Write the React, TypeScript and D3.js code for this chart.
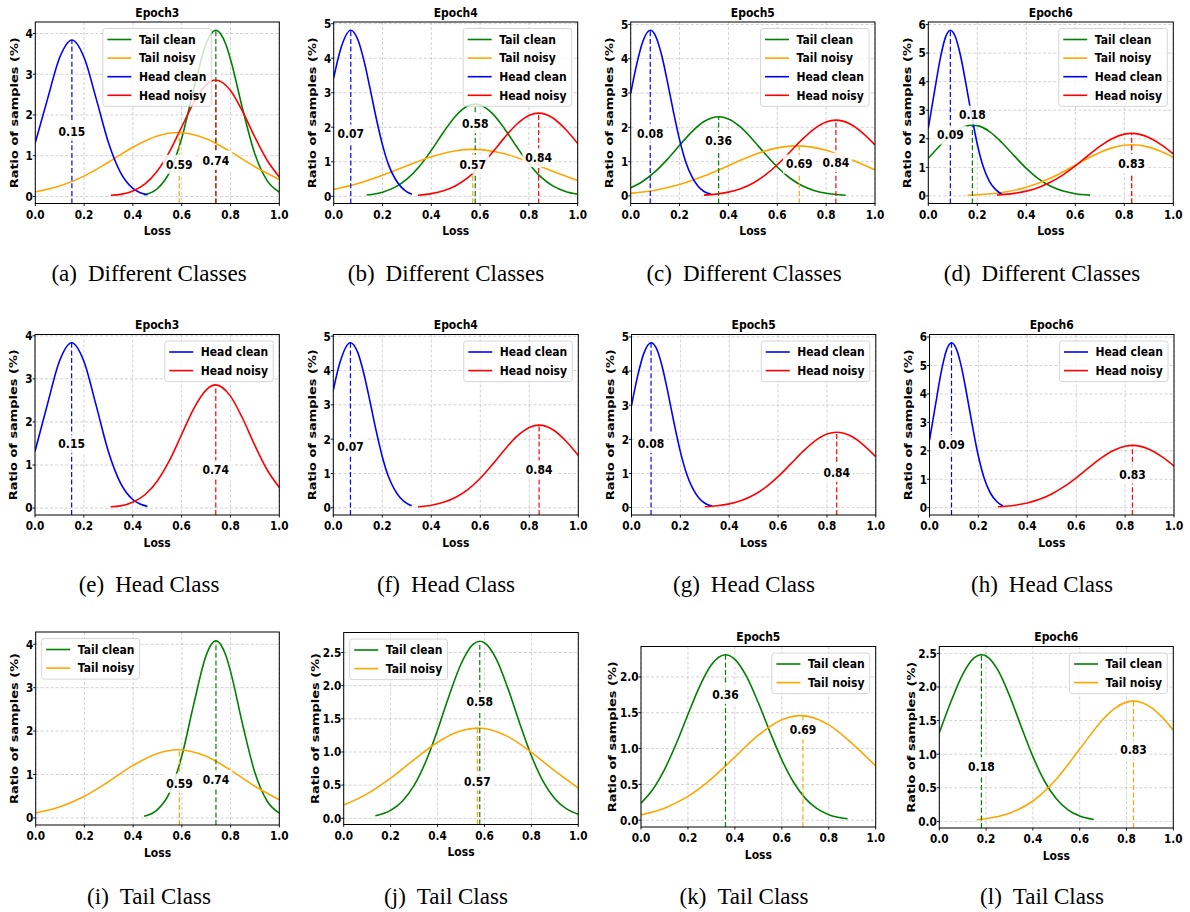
import React from 'react';
import * as d3 from 'd3';

type Pt = [number, number];

// ---------- DATA ----------
const epochTitles = ['Epoch3', 'Epoch4', 'Epoch5', 'Epoch6'];

// Head clean curves per epoch
const headClean3: Pt[] = [[0, 1.32], [0.05, 2.39], [0.1, 3.41], [0.15, 3.84], [0.2, 3.41], [0.25, 2.39], [0.3, 1.32], [0.35, 0.58], [0.4, 0.2], [0.43, 0.093], [0.46, 0.04]];
const headClean4: Pt[] = [[0, 3.43], [0.025, 4.18], [0.07, 4.81], [0.1, 4.52], [0.125, 3.9], [0.15, 3.09], [0.175, 2.24], [0.2, 1.49], [0.225, 0.91], [0.25, 0.53], [0.275, 0.28], [0.3, 0.13], [0.32, 0.06]];
const headClean5: Pt[] = [[0, 2.99], [0.025, 3.85], [0.05, 4.51], [0.08, 4.83], [0.1, 4.69], [0.125, 4.15], [0.15, 3.34], [0.175, 2.45], [0.2, 1.64], [0.225, 1.0], [0.25, 0.57], [0.275, 0.29], [0.3, 0.13], [0.33, 0.045]];
const headClean6: Pt[] = [[0, 2.37], [0.025, 3.64], [0.05, 4.86], [0.07, 5.55], [0.09, 5.8], [0.11, 5.58], [0.13, 4.97], [0.15, 4.1], [0.175, 2.9], [0.2, 1.81], [0.225, 1.0], [0.25, 0.5], [0.275, 0.22], [0.3, 0.06]];

// Head noisy curves per epoch
const headNoisy3: Pt[] = [[0.31, 0.03], [0.35, 0.052], [0.4, 0.136], [0.45, 0.31], [0.5, 0.625], [0.55, 1.1], [0.6, 1.705], [0.65, 2.31], [0.7, 2.74], [0.74, 2.86], [0.8, 2.6], [0.85, 2.08], [0.9, 1.455], [0.95, 0.89], [1.0, 0.48]];
const headNoisy4: Pt[] = [[0.345, 0.03], [0.4, 0.076], [0.45, 0.16], [0.5, 0.307], [0.55, 0.538], [0.6, 0.862], [0.65, 1.266], [0.7, 1.7], [0.75, 2.086], [0.8, 2.34], [0.84, 2.41], [0.9, 2.26], [0.95, 1.94], [1.0, 1.527]];
const headNoisy5: Pt[] = [[0.3, 0.025], [0.35, 0.054], [0.4, 0.111], [0.45, 0.211], [0.5, 0.371], [0.55, 0.604], [0.6, 0.909], [0.65, 1.266], [0.7, 1.633], [0.75, 1.95], [0.8, 2.156], [0.84, 2.21], [0.9, 2.09], [0.95, 1.834], [1.0, 1.489]];
const headNoisy6: Pt[] = [[0.28, 0.033], [0.35, 0.09], [0.4, 0.169], [0.45, 0.296], [0.5, 0.485], [0.55, 0.739], [0.6, 1.052], [0.65, 1.398], [0.7, 1.733], [0.75, 2.004], [0.8, 2.163], [0.83, 2.19], [0.9, 2.046], [0.95, 1.794], [1.0, 1.468]];

// Tail clean curves per epoch
const tailClean3: Pt[] = [[0.445, 0.039], [0.5, 0.19], [0.55, 0.59], [0.6, 1.43], [0.65, 2.65], [0.7, 3.75], [0.72, 3.99], [0.74, 4.08], [0.76, 3.99], [0.78, 3.75], [0.8, 3.37], [0.85, 2.14], [0.9, 1.04], [0.95, 0.39], [1.0, 0.11]];
const tailClean4: Pt[] = [[0.135, 0.038], [0.2, 0.12], [0.25, 0.257], [0.3, 0.495], [0.35, 0.856], [0.4, 1.33], [0.45, 1.857], [0.5, 2.327], [0.55, 2.62], [0.58, 2.67], [0.6, 2.647], [0.65, 2.403], [0.7, 1.959], [0.75, 1.434], [0.8, 0.943], [0.85, 0.557], [0.9, 0.295], [0.95, 0.141], [1.0, 0.06]];
const tailClean5: Pt[] = [[0, 0.239], [0.05, 0.429], [0.1, 0.707], [0.15, 1.067], [0.2, 1.476], [0.25, 1.869], [0.3, 2.169], [0.36, 2.31], [0.4, 2.246], [0.45, 2.005], [0.5, 1.639], [0.55, 1.228], [0.6, 0.843], [0.65, 0.53], [0.7, 0.305], [0.75, 0.161], [0.8, 0.078], [0.88, 0.02]];
const tailClean6: Pt[] = [[0, 1.317], [0.05, 1.783], [0.1, 2.189], [0.15, 2.437], [0.18, 2.48], [0.2, 2.461], [0.25, 2.254], [0.3, 1.872], [0.35, 1.41], [0.4, 0.964], [0.45, 0.597], [0.5, 0.336], [0.55, 0.171], [0.6, 0.079], [0.66, 0.028]];

// Tail noisy curves per epoch
const tailNoisy3: Pt[] = [[0, 0.113], [0.1, 0.257], [0.2, 0.5], [0.3, 0.84], [0.4, 1.21], [0.5, 1.485], [0.585, 1.57], [0.7, 1.418], [0.8, 1.1], [0.9, 0.73], [1.0, 0.417]];
const tailNoisy4: Pt[] = [[0, 0.2], [0.1, 0.369], [0.2, 0.606], [0.3, 0.884], [0.4, 1.147], [0.5, 1.321], [0.57, 1.36], [0.6, 1.353], [0.7, 1.231], [0.8, 0.995], [0.9, 0.715], [1.0, 0.456]];
const tailNoisy5: Pt[] = [[0, 0.075], [0.1, 0.168], [0.2, 0.332], [0.3, 0.578], [0.4, 0.882], [0.5, 1.186], [0.6, 1.401], [0.68, 1.46], [0.8, 1.331], [0.9, 1.07], [1.0, 0.756]];
const tailNoisy6: Pt[] = [[0.16, 0.024], [0.2, 0.039], [0.3, 0.12], [0.4, 0.303], [0.5, 0.628], [0.6, 1.076], [0.7, 1.521], [0.75, 1.683], [0.8, 1.775], [0.83, 1.79], [0.9, 1.708], [0.95, 1.559], [1.0, 1.356]];

const headCleanCurves = [headClean3, headClean4, headClean5, headClean6];
const headNoisyCurves = [headNoisy3, headNoisy4, headNoisy5, headNoisy6];
const tailCleanCurves = [tailClean3, tailClean4, tailClean5, tailClean6];
const tailNoisyCurves = [tailNoisy3, tailNoisy4, tailNoisy5, tailNoisy6];

// Marked loss values (dashed lines + labels)
const headCleanMark = [0.15, 0.07, 0.08, 0.09];
const headNoisyMark = [0.74, 0.84, 0.84, 0.83];
const tailCleanMark = [0.74, 0.58, 0.36, 0.18];
const tailNoisyMark = [0.59, 0.57, 0.69, 0.83];

// Height of the value labels (in y units) per row
const diffLabelY = { hc: [1.6, 1.81, 1.83, 2.13], hn: [0.89, 1.12, 0.98, 1.14], tc: [0.89, 2.1, 1.6, 2.83], tn: [0.79, 0.93, 0.93, 1.14] };
const headLabelY = { hc: [1.49, 1.78, 1.88, 2.23], hn: [0.89, 1.11, 1.03, 1.18] };
const tailLabelY = { tc: [0.89, 1.76, 1.755, 0.815], tn: [0.8, 0.56, 1.26, 1.065] };

const seriesNames = { tc: 'Tail clean', tn: 'Tail noisy', hc: 'Head clean', hn: 'Head noisy' };
const rowCaptions = ['Different Classes', 'Head Class', 'Tail Class'];
const letters = ['a', 'b', 'c', 'd', 'e', 'f', 'g', 'h', 'i', 'j', 'k', 'l'];
const xTicks = [0, 0.2, 0.4, 0.6, 0.8, 1.0];

// ---------- STYLE / LAYOUT ----------
const COLORS: Record<string, string> = { tc: 'green', tn: 'orange', hc: 'blue', hn: 'red' };
const FONT = '"DejaVu Sans", sans-serif';
const SY = 1.2;
const FS = 10.8;

const rowLayout = [
  { tops: [22, 22, 22, 22], bottoms: [203.5, 203.5, 203.5, 203.5], lefts: [35.3, 333.7, 630.7, 928.3], rights: [279.3, 577.7, 875, 1173.3], captionY: 273 },
  { tops: [334.5, 334.5, 334.5, 334.5], bottoms: [515, 515, 515, 515], lefts: [35, 333.3, 631.5, 929.5], rights: [279.3, 578.3, 875.8, 1174], captionY: 584 },
  { tops: [632, 632.5, 646.5, 646.5], bottoms: [825, 824.5, 827, 828], lefts: [35.7, 343.7, 641, 939.3], rights: [279.3, 578.3, 875.7, 1173.3], captionY: 896 },
];
const captionX = [149, 446, 744, 1042];
const legendLocs = [
  [0.277, 'ur', 'ur', 'ur'],
  ['ur', 'ur', 'ur', 'ur'],
  ['ul', 'ul', 'ur', 'ur'],
];

let ctx: CanvasRenderingContext2D | null = null;
function measure(s: string, size: number) {
  if (!ctx) ctx = document.createElement('canvas').getContext('2d');
  if (!ctx) return s.length * size * 0.6;
  ctx.font = `bold ${size}px "DejaVu Sans"`;
  return ctx.measureText(s).width;
}

function T(props: { x: number; y: number; children: React.ReactNode; size?: number; anchor?: string; rotate?: boolean }) {
  const { x, y, children, size = FS, anchor = 'middle', rotate = false } = props;
  const tr = `translate(${x},${y}) scale(1,${SY})${rotate ? ' rotate(-90)' : ''}`;
  return (
    <text transform={tr} fontSize={size} fontWeight="bold" fontFamily={FONT} textAnchor={anchor as any} dominantBaseline="central" fill="#000">
      {children}
    </text>
  );
}

type Series = { key: string; pts: Pt[]; mark: number; labelY: number };

function Panel(props: { left: number; right: number; top: number; bottom: number; series: Series[]; title?: string; legendLoc: any }) {
  const { left, right, top, bottom, series, title, legendLoc } = props;
  const ys = series.flatMap((s) => s.pts.map((d) => d[1]));
  const lo = d3.min(ys) as number;
  const hi = d3.max(ys) as number;
  const m = (hi - lo) * 0.05;
  const y = d3.scaleLinear().domain([lo - m, hi + m]).range([bottom, top]);
  const x = d3.scaleLinear().domain([0, 1]).range([left, right]);
  const yt = y.ticks(5);
  const step = yt[1] - yt[0];
  const yfmt = d3.format(`.${d3.precisionFixed(step)}f`);
  const xfmt = d3.format('.1f');
  const line = d3.line<Pt>().x((d) => x(d[0])).y((d) => y(d[1])).curve(d3.curveMonotoneX);
  const maxTickW = d3.max(yt, (t) => measure(yfmt(t), 10.5)) as number;

  // legend
  const textW = d3.max(series, (s) => measure(seriesNames[s.key as keyof typeof seriesNames], FS)) as number;
  const lw = 5 + 23 + 8 + textW + 5;
  const lh = 22 + (series.length - 1) * 18.6;
  const lx = legendLoc === 'ur' ? right - 6 - lw : legendLoc === 'ul' ? left + 6 : x(legendLoc);
  const ly = top + 6.5;

  const clipId = `clip-${Math.round(left)}-${Math.round(top)}`;
  return (
    <g>
      <defs>
        <clipPath id={clipId}>
          <rect x={left} y={top} width={right - left} height={bottom - top} />
        </clipPath>
      </defs>
      {/* grid */}
      {xTicks.map((t) => (
        <line key={'gx' + t} x1={x(t)} x2={x(t)} y1={top} y2={bottom} stroke="#b0b0b0" strokeWidth={0.7} strokeDasharray="3,2" opacity={0.8} />
      ))}
      {yt.map((t) => (
        <line key={'gy' + t} x1={left} x2={right} y1={y(t)} y2={y(t)} stroke="#b0b0b0" strokeWidth={0.7} strokeDasharray="3,2" opacity={0.8} />
      ))}
      <g clipPath={`url(#${clipId})`}>
        {series.map((s) => (
          <path key={'c' + s.key} d={line(s.pts) as string} fill="none" stroke={COLORS[s.key]} strokeWidth={1.6} />
        ))}
        {series.map((s) => (
          <line key={'v' + s.key} x1={x(s.mark)} x2={x(s.mark)} y1={bottom} y2={y(d3.max(s.pts, (d) => d[1]) as number)} stroke={COLORS[s.key]} strokeWidth={1.2} strokeDasharray="5,2.6" />
        ))}
      </g>
      {series.map((s) => {
        const lab = s.mark.toFixed(2);
        const w = measure(lab, FS) + 6;
        return (
          <g key={'l' + s.key}>
            <rect x={x(s.mark) - w / 2} y={y(s.labelY) - 9.5} width={w} height={19} fill="#fff" opacity={0.85} />
            <T x={x(s.mark)} y={y(s.labelY)}>{lab}</T>
          </g>
        );
      })}
      {/* frame */}
      <rect x={left} y={top} width={right - left} height={bottom - top} fill="none" stroke="#000" strokeWidth={1} />
      {/* ticks */}
      {xTicks.map((t) => (
        <g key={'tx' + t}>
          <line x1={x(t)} x2={x(t)} y1={bottom} y2={bottom + 2.5} stroke="#000" strokeWidth={0.9} />
          <T x={x(t)} y={bottom + 11} size={10.5}>{xfmt(t)}</T>
        </g>
      ))}
      {yt.map((t) => (
        <g key={'ty' + t}>
          <line x1={left - 2.5} x2={left} y1={y(t)} y2={y(t)} stroke="#000" strokeWidth={0.9} />
          <T x={left - 2.5} y={y(t)} size={10.5} anchor="end">{yfmt(t)}</T>
        </g>
      ))}
      <T x={(left + right) / 2} y={bottom + 27.5}>Loss</T>
      <T x={left - 17 - 0.6 * maxTickW} y={(top + bottom) / 2} rotate>Ratio of samples (%)</T>
      {title && <T x={(left + right) / 2} y={top - 9.5}>{title}</T>}
      {/* legend */}
      <g>
        <rect x={lx} y={ly} width={lw} height={lh} rx={2.5} fill="#fff" fillOpacity={0.8} stroke="#cccccc" strokeWidth={0.8} />
        {series.map((s, i) => {
          const cy = ly + 11 + i * 18.6;
          return (
            <g key={'lg' + s.key}>
              <line x1={lx + 4.5} x2={lx + 28.5} y1={cy} y2={cy} stroke={COLORS[s.key]} strokeWidth={1.6} />
              <T x={lx + 36} y={cy} anchor="start">{seriesNames[s.key as keyof typeof seriesNames]}</T>
            </g>
          );
        })}
      </g>
    </g>
  );
}

export default function App() {
  const panels: React.ReactNode[] = [];
  const captions: React.ReactNode[] = [];
  for (let r = 0; r < 3; r++) {
    const L = rowLayout[r];
    for (let c = 0; c < 4; c++) {
      let series: Series[] = [];
      if (r === 0) {
        series = [
          { key: 'tc', pts: tailCleanCurves[c], mark: tailCleanMark[c], labelY: diffLabelY.tc[c] },
          { key: 'tn', pts: tailNoisyCurves[c], mark: tailNoisyMark[c], labelY: diffLabelY.tn[c] },
          { key: 'hc', pts: headCleanCurves[c], mark: headCleanMark[c], labelY: diffLabelY.hc[c] },
          { key: 'hn', pts: headNoisyCurves[c], mark: headNoisyMark[c], labelY: diffLabelY.hn[c] },
        ];
      } else if (r === 1) {
        series = [
          { key: 'hc', pts: headCleanCurves[c], mark: headCleanMark[c], labelY: headLabelY.hc[c] },
          { key: 'hn', pts: headNoisyCurves[c], mark: headNoisyMark[c], labelY: headLabelY.hn[c] },
        ];
      } else {
        series = [
          { key: 'tc', pts: tailCleanCurves[c], mark: tailCleanMark[c], labelY: tailLabelY.tc[c] },
          { key: 'tn', pts: tailNoisyCurves[c], mark: tailNoisyMark[c], labelY: tailLabelY.tn[c] },
        ];
      }
      const title = r === 2 && c < 2 ? undefined : epochTitles[c];
      panels.push(
        <Panel key={`p${r}${c}`} left={L.lefts[c]} right={L.rights[c]} top={L.tops[c]} bottom={L.bottoms[c]} series={series} title={title} legendLoc={legendLocs[r][c]} />
      );
      captions.push(
        <text key={`cap${r}${c}`} x={captionX[c]} y={L.captionY} fontFamily='"Liberation Serif", "Times New Roman", serif' fontSize={23} textAnchor="middle" dominantBaseline="central" fill="#000">
          <tspan>({letters[r * 4 + c]})</tspan>
          <tspan dx={11}>{rowCaptions[r]}</tspan>
        </text>
      );
    }
  }
  return (
    <svg width={1190} height={912} style={{ position: 'absolute', left: 0, top: 0, background: '#fff' }}>
      <rect width={1190} height={912} fill="#fff" />
      {panels}
      {captions}
    </svg>
  );
}
